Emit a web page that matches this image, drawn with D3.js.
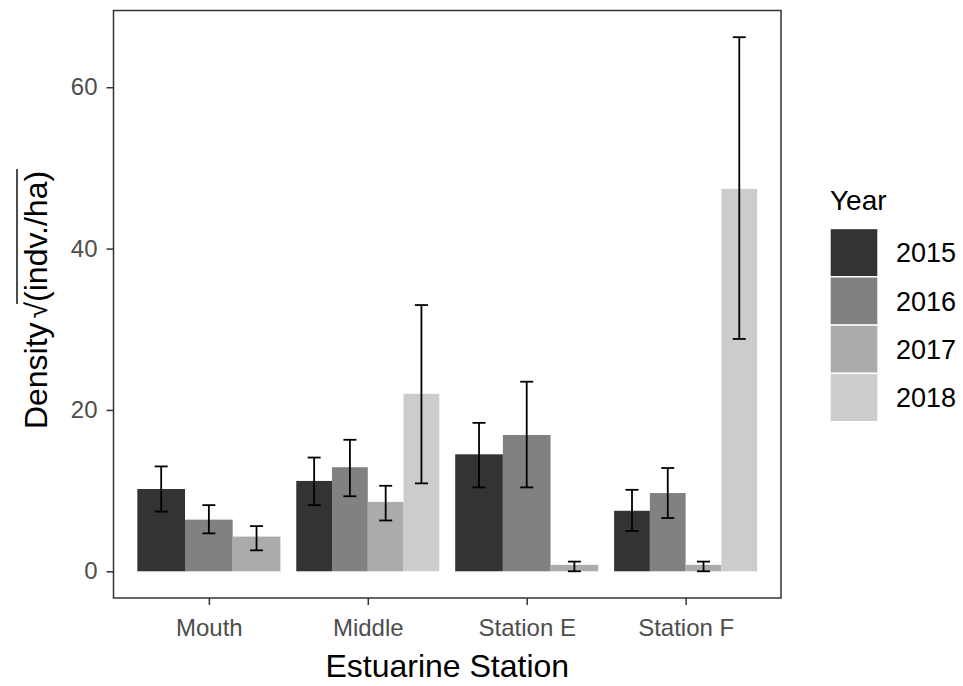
<!DOCTYPE html>
<html lang="en">
<head>
<meta charset="UTF-8">
<title>Density by Estuarine Station</title>
<script src="https://d3js.org/d3.v7.min.js"></script>
<style>
  body { margin: 0; background: #fff; }
  text { font-family: "Liberation Sans", Arial, sans-serif; }
</style>
</head>
<body>
<div id="chart"></div>
<script>
// categories and series
var stations = ["Mouth", "Middle", "Station E", "Station F"];
var years = ["2015", "2016", "2017", "2018"];

// mean density (sqrt indv./ha), null = no bar
var mean2015 = [10.2, 11.2, 14.5, 7.5];
var mean2016 = [6.4, 12.9, 16.9, 9.7];
var mean2017 = [4.3, 8.6, 0.8, 0.8];
var mean2018 = [null, 22.0, null, 47.4];

// error bar limits
var lo2015 = [7.4, 8.2, 10.4, 5.0];
var hi2015 = [13.0, 14.1, 18.4, 10.1];
var lo2016 = [4.7, 9.3, 10.4, 6.6];
var hi2016 = [8.2, 16.3, 23.5, 12.8];
var lo2017 = [2.6, 6.3, 0.0, 0.0];
var hi2017 = [5.6, 10.6, 1.2, 1.2];
var lo2018 = [null, 10.9, null, 28.8];
var hi2018 = [null, 33.0, null, 66.2];

var yTicks = [0, 20, 40, 60];
var fills = ["#333333", "#818181", "#ABABAB", "#CCCCCC"];

var means = [mean2015, mean2016, mean2017, mean2018];
var los = [lo2015, lo2016, lo2017, lo2018];
var his = [hi2015, hi2016, hi2017, hi2018];

// build rows, dodging only over the bars that exist in each station
var rows = [];
stations.forEach(function (s, i) {
    var present = [];
    years.forEach(function (yr, j) {
        if (means[j][i] != null) present.push(j);
    });
    present.forEach(function (j, k) {
        rows.push({
            station: s, year: years[j], yi: j,
            value: means[j][i], lo: los[j][i], hi: his[j][i],
            slot: k, nSlots: present.length
        });
    });
});

var width = 963, height = 686;
var panel = { left: 113.5, right: 781, top: 10.5, bottom: 598 };
var font = "'Liberation Sans', Arial, sans-serif";

var svg = d3.select("#chart").append("svg")
    .attr("width", width)
    .attr("height", height);

var x = d3.scalePoint()
    .domain(stations)
    .range([panel.left, panel.right])
    .padding(0.6);
var groupW = x.step() * 0.9;

var yMax = d3.max(rows, function (d) { return d.hi; });
var pad = (yMax - 0) * 0.05;
var y = d3.scaleLinear()
    .domain([0 - pad, yMax + pad])
    .range([panel.bottom, panel.top]);

var color = d3.scaleOrdinal().domain(years).range(fills);

function barX(d) {
    var w = groupW / d.nSlots;
    return x(d.station) - groupW / 2 + d.slot * w;
}
function barW(d) { return groupW / d.nSlots; }

// bars
svg.append("g").selectAll("rect")
    .data(rows)
    .enter().append("rect")
    .attr("x", barX)
    .attr("width", barW)
    .attr("y", function (d) { return y(d.value); })
    .attr("height", function (d) { return y(0) - y(d.value); })
    .attr("fill", function (d) { return color(d.year); });

// error bars
var cap = 6.5;
var eb = svg.append("g").attr("stroke", "#000").attr("stroke-width", 1.8).attr("fill", "none");
rows.forEach(function (d) {
    var cx = barX(d) + barW(d) / 2;
    eb.append("line").attr("x1", cx).attr("x2", cx).attr("y1", y(d.lo)).attr("y2", y(d.hi));
    eb.append("line").attr("x1", cx - cap).attr("x2", cx + cap).attr("y1", y(d.lo)).attr("y2", y(d.lo));
    eb.append("line").attr("x1", cx - cap).attr("x2", cx + cap).attr("y1", y(d.hi)).attr("y2", y(d.hi));
});

// panel border
svg.append("rect")
    .attr("x", panel.left).attr("y", panel.top)
    .attr("width", panel.right - panel.left)
    .attr("height", panel.bottom - panel.top)
    .attr("fill", "none").attr("stroke", "#333333").attr("stroke-width", 1.5);

// axes
var yAxis = svg.append("g")
    .attr("transform", "translate(" + panel.left + ",0)")
    .call(d3.axisLeft(y).tickValues(yTicks).tickSize(7).tickPadding(9));
var xAxis = svg.append("g")
    .attr("transform", "translate(0," + panel.bottom + ")")
    .call(d3.axisBottom(x).tickSize(7).tickPadding(14));

[yAxis, xAxis].forEach(function (g) {
    g.select(".domain").remove();
    g.selectAll(".tick line").attr("stroke", "#333333").attr("stroke-width", 1.5);
    g.selectAll(".tick text")
        .attr("fill", "#4D4D4D")
        .style("font-size", "24px")
        .style("font-family", font);
});

// x axis title
svg.append("text")
    .attr("x", (panel.left + panel.right) / 2)
    .attr("y", 677)
    .attr("text-anchor", "middle")
    .style("font-size", "32px")
    .attr("fill", "#000")
    .text("Estuarine Station");

// y axis title: Density sqrt((indv./ha)) with an overbar
var yt = svg.append("g")
    .attr("transform", "translate(47,300) rotate(-90)");
var title = yt.append("text")
    .attr("text-anchor", "middle")
    .style("font-size", "32px")
    .attr("fill", "#000");
title.append("tspan").text("Density");
title.append("tspan").attr("dx", 4).style("font-size", "30px").text("\u221A");
var arg = title.append("tspan").text("(indv./ha)");

var bb = title.node().getBBox();
var argLen = arg.node().getComputedTextLength();
var endX = bb.x + bb.width;
yt.append("line")
    .attr("x1", endX - argLen - 2).attr("x2", endX + 2)
    .attr("y1", bb.y - 1).attr("y2", bb.y - 1)
    .attr("stroke", "#000").attr("stroke-width", 1.4);

// legend
var legend = svg.append("g").attr("transform", "translate(830,0)");
legend.append("text")
    .attr("x", 0).attr("y", 210)
    .style("font-size", "28px")
    .attr("fill", "#000")
    .text("Year");
var keyH = 48.3;
years.forEach(function (yr, i) {
    var top = 228.5 + i * keyH;
    legend.append("rect")
        .attr("x", 0).attr("y", top)
        .attr("width", 48).attr("height", keyH)
        .attr("fill", color(yr))
        .attr("stroke", "#fff").attr("stroke-width", 1.4);
    legend.append("text")
        .attr("x", 66).attr("y", top + keyH / 2)
        .attr("dy", "0.36em")
        .style("font-size", "27px")
        .attr("fill", "#000")
        .text(yr);
});
</script>
</body>
</html>
